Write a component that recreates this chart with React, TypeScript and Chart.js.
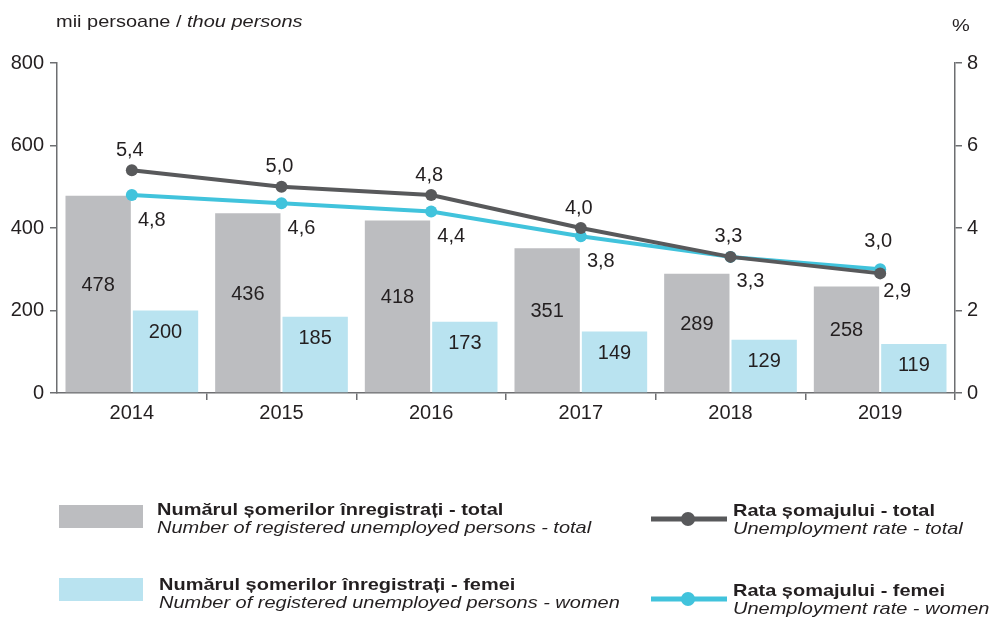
import React, { useEffect, useRef } from "react";
import { Chart, registerables } from "chart.js";

Chart.register(...registerables);

const years = ["2014", "2015", "2016", "2017", "2018", "2019"];
const unemployedTotal = [478, 436, 418, 351, 289, 258];
const unemployedWomen = [200, 185, 173, 149, 129, 119];
const rateTotal = [5.4, 5.0, 4.8, 4.0, 3.3, 2.9];
const rateWomen = [4.8, 4.6, 4.4, 3.8, 3.3, 3.0];
// label placement: 1 = above the point, -1 = below-right
const rateTotalLabelSide = [1, 1, 1, 1, 1, -1];
const rateWomenLabelSide = [-1, -1, -1, -1, -1, 1];

const leftTicks = [0, 200, 400, 600, 800];
const rightTicks = [0, 2, 4, 6, 8];

const FONT = "'Liberation Sans', Arial, Helvetica, sans-serif";
const TEXT = "#231f20";
const AXIS = "#6d6e71";
const GRAY_BAR = "#bcbdc0";
const BLUE_BAR = "#b9e3f0";
const DARK_LINE = "#58595b";
const CYAN_LINE = "#41c3dc";
const STRETCH = 1.175;

const fmt = (v: number) => v.toFixed(1).replace(".", ",");

function stretchedText(ctx: CanvasRenderingContext2D, text: string, x: number, y: number, font: string) {
  ctx.save();
  ctx.font = font;
  ctx.translate(x, y);
  ctx.scale(STRETCH, 1);
  ctx.fillText(text, 0, 0);
  const w = ctx.measureText(text).width * STRETCH;
  ctx.restore();
  return w;
}

const overlayPlugin = {
  id: "overlay",
  afterDatasetsDraw(chart: any) {
    const ctx = chart.ctx;
    const y = chart.scales.y;
    ctx.save();
    ctx.fillStyle = TEXT;
    ctx.textAlign = "center";
    ctx.textBaseline = "middle";
    ctx.font = `20px ${FONT}`;
    // bar labels
    const metaTotal = chart.getDatasetMeta(2);
    const metaWomen = chart.getDatasetMeta(3);
    metaTotal.data.forEach((bar: any, i: number) => {
      const v = unemployedTotal[i];
      ctx.fillText(String(v), bar.x, y.getPixelForValue((v + 44) / 2));
    });
    metaWomen.data.forEach((bar: any, i: number) => {
      ctx.fillText(String(unemployedWomen[i]), bar.x, bar.y + 22);
    });
    // line labels
    const mT = chart.getDatasetMeta(0);
    const mW = chart.getDatasetMeta(1);
    mT.data.forEach((p: any, i: number) => {
      const side = rateTotalLabelSide[i];
      if (side > 0) ctx.fillText(fmt(rateTotal[i]), p.x - 2, p.y - 20);
      else ctx.fillText(fmt(rateTotal[i]), p.x + 17, p.y + 18);
    });
    mW.data.forEach((p: any, i: number) => {
      const side = rateWomenLabelSide[i];
      if (side > 0) ctx.fillText(fmt(rateWomen[i]), p.x - 2, p.y - 28);
      else ctx.fillText(fmt(rateWomen[i]), p.x + 20, p.y + 25);
    });
    ctx.restore();
  },
  afterDraw(chart: any) {
    const ctx = chart.ctx;
    ctx.save();
    ctx.fillStyle = TEXT;
    ctx.textBaseline = "alphabetic";
    ctx.textAlign = "left";
    // axis titles
    const w1 = stretchedText(ctx, "mii persoane / ", 56, 27, `17px ${FONT}`);
    stretchedText(ctx, "thou persons", 56 + w1, 27, `italic 17px ${FONT}`);
    stretchedText(ctx, "%", 952, 31, `17px ${FONT}`);

    // legend
    const drawTexts = (x: number, yb: number, bold: string, ital: string) => {
      ctx.fillStyle = TEXT;
      stretchedText(ctx, bold, x, yb, `bold 17px ${FONT}`);
      stretchedText(ctx, ital, x, yb + 18, `italic 17px ${FONT}`);
    };
    ctx.fillStyle = GRAY_BAR;
    ctx.fillRect(59, 505, 84, 23);
    drawTexts(157, 515, "Numărul șomerilor înregistrați - total", "Number of registered unemployed persons - total");
    ctx.fillStyle = BLUE_BAR;
    ctx.fillRect(59, 578, 84, 23);
    drawTexts(159, 590, "Numărul șomerilor înregistrați - femei", "Number of registered unemployed persons - women");

    const drawLineKey = (yc: number, color: string) => {
      ctx.strokeStyle = color;
      ctx.lineWidth = 5;
      ctx.beginPath();
      ctx.moveTo(651, yc);
      ctx.lineTo(727, yc);
      ctx.stroke();
      ctx.fillStyle = color;
      ctx.beginPath();
      ctx.arc(688, yc, 7, 0, Math.PI * 2);
      ctx.fill();
    };
    drawLineKey(519, DARK_LINE);
    drawTexts(733, 516, "Rata șomajului - total", "Unemployment rate - total");
    drawLineKey(599, CYAN_LINE);
    drawTexts(733, 596, "Rata șomajului - femei", "Unemployment rate - women");
    ctx.restore();
  },
};

export default function App() {
  const ref = useRef<HTMLCanvasElement | null>(null);
  useEffect(() => {
    if (!ref.current) return;
    const chart = new Chart(ref.current, {
      type: "bar",
      data: {
        labels: years,
        datasets: [
          {
            type: "line",
            label: "Rata șomajului - total",
            data: rateTotal,
            yAxisID: "y1",
            borderColor: DARK_LINE,
            backgroundColor: DARK_LINE,
            borderWidth: 4,
            pointRadius: 6,
            pointBackgroundColor: DARK_LINE,
            pointBorderWidth: 0,
            tension: 0,
            order: 0,
          },
          {
            type: "line",
            label: "Rata șomajului - femei",
            data: rateWomen,
            yAxisID: "y1",
            borderColor: CYAN_LINE,
            backgroundColor: CYAN_LINE,
            borderWidth: 4,
            pointRadius: 6,
            pointBackgroundColor: CYAN_LINE,
            pointBorderWidth: 0,
            tension: 0,
            order: 0,
          },
          {
            type: "bar",
            label: "Numărul șomerilor înregistrați - total",
            data: unemployedTotal,
            yAxisID: "y",
            backgroundColor: GRAY_BAR,
            categoryPercentage: 0.9,
            barPercentage: 0.97,
            order: 1,
          },
          {
            type: "bar",
            label: "Numărul șomerilor înregistrați - femei",
            data: unemployedWomen,
            yAxisID: "y",
            backgroundColor: BLUE_BAR,
            categoryPercentage: 0.9,
            barPercentage: 0.97,
            order: 1,
          },
        ],
      },
      options: {
        responsive: false,
        animation: false,
        layout: { padding: { top: 63, left: 0, right: 0, bottom: 0 } },
        plugins: {
          legend: { display: false },
          tooltip: { enabled: false },
        },
        scales: {
          x: {
            grid: {
              offset: true,
              drawOnChartArea: false,
              drawTicks: true,
              tickLength: 7,
              lineWidth: 1.5,
              color: (c: any) => (c.index === 0 || c.index === years.length ? "rgba(0,0,0,0)" : AXIS),
            },
            border: { color: AXIS, width: 1.5 },
            ticks: { color: TEXT, font: { family: FONT, size: 20 }, padding: 1 },
            afterFit: (s: any) => {
              s.height = 224;
            },
          },
          y: {
            position: "left",
            min: 0,
            max: 800,
            afterBuildTicks: (s: any) => {
              s.ticks = leftTicks.map((v) => ({ value: v }));
            },
            grid: { drawOnChartArea: false, drawTicks: true, tickLength: 7, color: AXIS, lineWidth: 1.5 },
            border: { color: AXIS, width: 1.5 },
            ticks: { color: TEXT, font: { family: FONT, size: 20 }, padding: 6 },
            afterFit: (s: any) => {
              s.width = 57;
            },
          },
          y1: {
            position: "right",
            min: 0,
            max: 8,
            afterBuildTicks: (s: any) => {
              s.ticks = rightTicks.map((v) => ({ value: v }));
            },
            grid: { drawOnChartArea: false, drawTicks: true, tickLength: 7, color: AXIS, lineWidth: 1.5 },
            border: { color: AXIS, width: 1.5 },
            ticks: { color: TEXT, font: { family: FONT, size: 20 }, padding: 5 },
            afterFit: (s: any) => {
              s.width = 37;
            },
          },
        },
      } as any,
      plugins: [overlayPlugin],
    });
    return () => chart.destroy();
  }, []);
  return (
    <div style={{ position: "fixed", left: 0, top: 0, width: 992, height: 617, background: "#fff" }}>
      <canvas ref={ref} width={992} height={617} style={{ display: "block" }} />
    </div>
  );
}
